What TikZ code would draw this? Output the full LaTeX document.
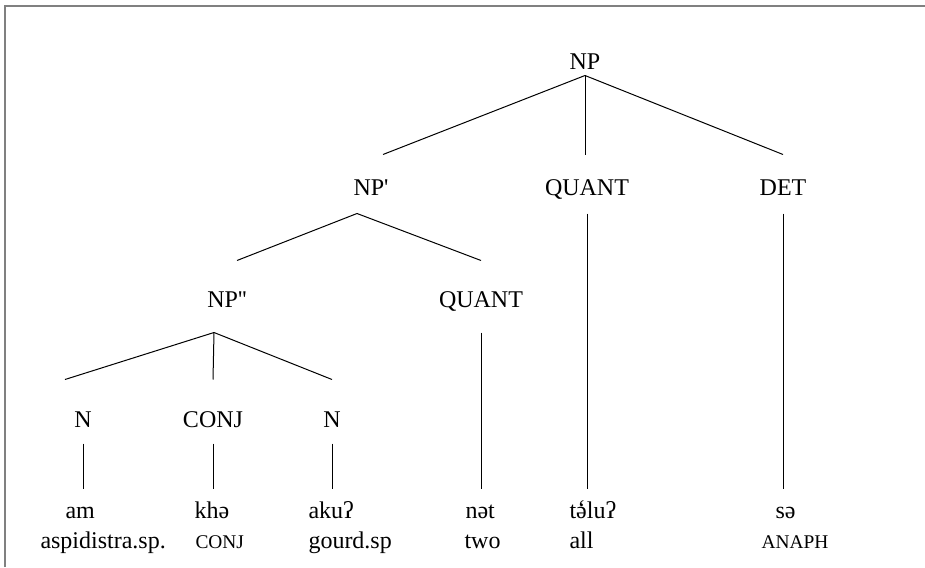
\documentclass[tikz,border=0pt]{standalone}
\usepackage{fontspec}
\setmainfont{Liberation Serif}
\usepackage{tikz}

\begin{document}
\begin{tikzpicture}[x=0.5pt, y=-0.5pt, line width=0.5pt,
                    every node/.style={inner sep=0pt, font=\fontsize{12}{14}\selectfont},
                    root node/.style={anchor=base, text depth=3pt},
                    mid node/.style={anchor=base, text height=20pt, text depth=9pt},
                    low node/.style={anchor=base, text height=23pt, text depth=12.5pt},
                    pos node/.style={anchor=base, text height=23.5pt, text depth=8pt},
                    word/.style={anchor=base west, text height=14.5pt},
                    gloss/.style={anchor=base west},
                    smallcap/.style={font=\fontsize{9.7}{11}\selectfont}]

  \useasboundingbox (0,0) rectangle (925,567);
  \draw[line width=1pt, gray] (5,567) -- (5,6) -- (925,6);

  % categories
  \node[root node] (np) at (585,69) {NP};
  \node[mid node] (npa) at (371,195) {NP\textquotesingle};
  \node[mid node] (quant) at (587,195) {QUANT};
  \node[mid node] (det) at (783,195) {DET};
  \node[low node] (npb) at (227,307) {NP\textquotesingle\textquotesingle};
  \node[low node] (quantb) at (481,307) {QUANT};
  \node[pos node] (n1) at (83,427) {N};
  \node[pos node] (conj) at (213,427) {CONJ};
  \node[pos node] (n2) at (332,427) {N};

  % words and glosses
  \node[word] (am) at (65,518) {am};
  \node[word] (khe) at (194,518) {khə};
  \node[word] (aku) at (308,518) {akuʔ};
  \node[word] (net) at (465,518) {nət};
  \node[word] (talu) at (569,518)
    {t{\setbox0\hbox{ə}\rlap{\hbox to\wd0{\hss\raisebox{1pt}{\char"60}\hss}}\box0}luʔ};
  \node[word] (se) at (775,518) {sə};
  \node[gloss] (aspid) at (40,548) {aspidistra.sp.};
  \node[gloss, smallcap] (conjg) at (195,548) {CONJ};
  \node[gloss] (gourd) at (308,548) {gourd.sp};
  \node[gloss] (two) at (464,548) {two};
  \node[gloss] (all) at (569,548) {all};
  \node[gloss, smallcap] (anaph) at (761,548) {ANAPH};

  \draw (np.south) -- ([xshift=6pt]npa.north);
  \draw (np.south) -- (np.south |- quant.north);
  \draw (np.south) -- (det.north);
  \draw ([xshift=-7pt]npa.south) -- ([xshift=5pt]npb.north);
  \draw ([xshift=-7pt]npa.south) -- (quantb.north);
  \draw ([xshift=-6.5pt]npb.south) -- ([xshift=-9pt]n1.north);
  \draw ([xshift=-6.5pt]npb.south) -- (conj.north);
  \draw ([xshift=-6.5pt]npb.south) -- (n2.north);
  \draw (n1.south) -- (n1.south |- am.north);
  \draw (conj.south) -- (conj.south |- khe.north);
  \draw (n2.south) -- (n2.south |- aku.north);
  \draw (quantb.south) -- (quantb.south |- net.north);
  \draw (quant.south) -- (quant.south |- talu.north);
  \draw (det.south) -- (det.south |- se.north);
\end{tikzpicture}
\end{document}
